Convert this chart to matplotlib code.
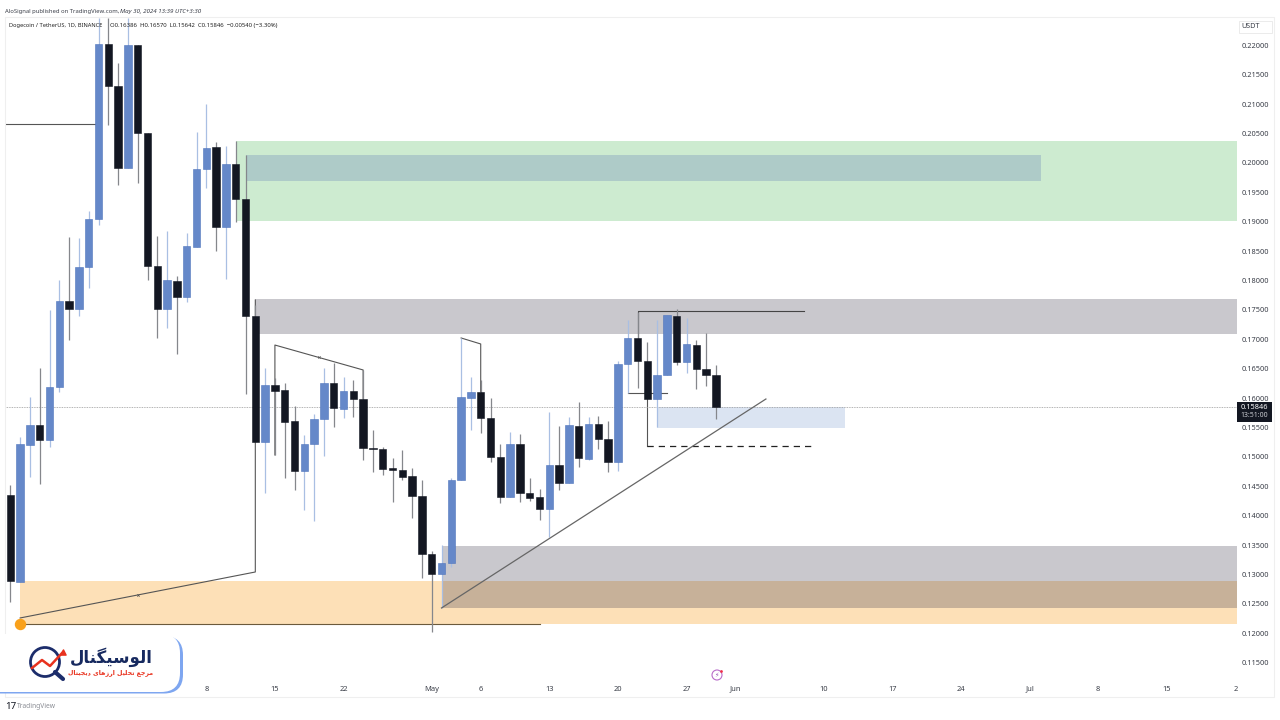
import matplotlib
matplotlib.use('Agg')
import matplotlib.pyplot as plt
from matplotlib.patches import Rectangle, Circle, FancyBboxPatch

plt.rcParams['font.family'] = ['Noto Sans', 'DejaVu Sans']

# daily candles, index 0 is 19 Mar 2024
opens = [.14354, .12874, .15204, .15544, .15289, .16191, .17653, .17517, .18232, .19048,
         .22024, .21309, .19915, .22007, .20510, .18249, .17517, .17993, .17721, .18572,
         .19898, .20272, .18912, .19983, .19388, .17398, .15255, .16225, .16140, .15613,
         .14762, .15221, .15646, .16259, .15817, .16123, .15986, .15153, .15136, .14813,
         .14779, .14677, .14337, .13350, .13010, .13198, .14609, .16003, .16106, .15663,
         .15000, .14320, .15221, .14388, .14320, .14116, .14864, .14558, .15527, .14966,
         .15561, .15306, .14915, .16581, .17024, .16632, .15986, .16394, .17398, .16615,
         .16905, .16496, .16386]
highs = [.14524, .15340, .16020, .16513, .17500, .18010, .18742, .18725, .19184, .22466,
         .22466, .21701, .22466, .22007, .20510, .18759, .18844, .18078, .18810, .20527,
         .21003, .20357, .20289, .20374, .20136, .17585, .16513, .16343, .16259, .15867,
         .15374, .15731, .16513, .16598, .16361, .16310, .16480, .15459, .15170, .14983,
         .15119, .14813, .14609, .13400, .13503, .14643, .17024, .16361, .16310, .16003,
         .15221, .15425, .15391, .14643, .14456, .15765, .15527, .15680, .15935, .15680,
         .15697, .15612, .16632, .17330, .17466, .16956, .17330, .17415, .17517, .17364,
         .16990, .17109, .16570]
lows = [.12534, .12874, .14660, .14541, .15170, .16106, .16990, .17398, .17874, .18945,
        .20646, .19626, .19915, .19660, .18010, .17024, .17194, .16752, .17636, .18572,
        .19575, .18504, .18027, .18997, .16071, .15255, .14388, .15034, .14643, .14439,
        .14099, .13912, .15017, .15510, .15663, .15680, .14949, .14745, .14694, .14234,
        .14609, .13963, .12942, .12024, .12432, .13130, .14609, .15459, .15408, .14915,
        .14218, .14320, .14234, .14251, .13929, .13640, .14439, .14558, .14830, .14949,
        .15136, .14745, .14762, .16088, .16173, .15986, .15510, .16394, .16564, .16428,
        .16156, .16207, .15642]
closes = [.12891, .15221, .15544, .15289, .16191, .17653, .17517, .18232, .19048, .22024,
          .21309, .19915, .22007, .20510, .18249, .17517, .18010, .17721, .18589, .19898,
          .20255, .18912, .19983, .19388, .17398, .15255, .16225, .16123, .15596, .14762,
          .15221, .15646, .16259, .15834, .16123, .15986, .15153, .15136, .14796, .14779,
          .14660, .14337, .13350, .13010, .13198, .14609, .16020, .16106, .15663, .15000,
          .14320, .15221, .14388, .14303, .14116, .14864, .14558, .15544, .14983, .15561,
          .15306, .14915, .16581, .17024, .16632, .15986, .16394, .17415, .16615, .16922,
          .16496, .16394, .15846]

price_ticks = [.115, .12, .125, .13, .135, .14, .145, .15, .155, .16, .165, .17, .175, .18,
               .185, .19, .195, .20, .205, .21, .215, .22]
date_idx = [20, 27, 34, 43, 48, 55, 62, 69, 74, 83, 90, 97, 104, 111, 118, 125]
date_labels = ['8', '15', '22', 'May', '6', '13', '20', '27', 'Jun', '10', '17', '24', 'Jul', '8', '15', '2']

last_price = .15846

W, H = 1280, 720
fig = plt.figure(figsize=(12.8, 7.2), dpi=100, facecolor='white')


def px(x, y):
    return x / W, 1 - y / H


def fig_text(x, y, s, **kw):
    kw.setdefault('va', 'center')
    fig.text(*px(x, y), s, **kw)


ax = fig.add_axes([5 / W, 1 - 680 / H, 1232 / W, 662 / H])
ax.set_xlim(-0.541, 125.17)
ax.set_ylim(.11207, .22466)
for s in ax.spines.values():
    s.set_visible(False)

# zones
ax.axhspan(.19014, .20374, xmin=(23.03 + .541) / 125.711, facecolor='#cdebd0', lw=0, zorder=1)
ax.fill_between([24, 105.2], .19694, .20136, facecolor='#aecbc8', lw=0, zorder=1.1)
ax.fill_between([25, 125.17], .17092, .17687, facecolor='#c9c8cd', lw=0, zorder=1)
ax.fill_between([1, 125.17], .12160, .12891, facecolor='#fde0b7', lw=0, zorder=1)
ax.fill_between([44, 125.17], .12432, .13486, facecolor='#3e3a4c', alpha=.28, lw=0, zorder=1.1)
ax.fill_between([66, 85.2], .15493, .15850, facecolor='#dbe4f2', lw=0, zorder=1)

# drawings
line_kw = dict(color='#555555', lw=.8, zorder=2)
ax.plot([-.54, 9], [.20663, .20663], **line_kw)
ax.plot([1, 54], [.12160, .12160], color='#6b5a3c', lw=.8, zorder=2)
ax.plot([1, 25, 25], [.12262, .13044, .17670], **line_kw)
ax.plot([27, 27, 36, 36], [.15034, .16904, .16480, .15986], **line_kw)
ax.plot([46, 48, 48], [.17024, .16922, .16106], **line_kw)
ax.plot([64, 64, 81], [.17024, .17483, .17483], color='#444444', lw=.8, zorder=2)
ax.plot([63, 67], [.16088, .16088], **line_kw)
ax.plot([65, 65], [.15986, .15194], **line_kw)
ax.plot([65, 82], [.15194, .15194], color='#222222', lw=.9, ls=(0, (5, 4)), zorder=2)
ax.plot([44, 77.1], [.12432, .15986], color='#666666', lw=.9, zorder=5)
ax.scatter([13, 31.5], [.12653, .16692], marker='x', s=3, lw=.5, color='#555555', zorder=3)
ax.scatter([1], [.1216], s=52, color='#f9a11b', zorder=3)
ax.axhline(last_price, color='#9a9a9a', lw=.6, ls=(0, (1, 1)), zorder=2)

# candles
for i in range(len(opens)):
    up = closes[i] >= opens[i]
    wick = '#a9bfe3' if up else '#85878c'
    ax.vlines(i, lows[i], highs[i], color=wick, lw=.9, zorder=3)
    body = '#6588c9' if up else '#131722'
    edge = '#4f74bd' if up else '#131722'
    ax.bar(i, abs(closes[i] - opens[i]), bottom=min(opens[i], closes[i]), width=.77,
           facecolor=body, edgecolor=edge, lw=.4, zorder=4)

ax.set_xticks(date_idx)
ax.set_xticklabels(date_labels)
ax.yaxis.tick_right()
ax.set_yticks(price_ticks)
ax.set_yticklabels(['%.5f' % p for p in price_ticks])
ax.tick_params(axis='y', length=0, pad=3, labelsize=5.3, labelcolor='#3a3e48')
ax.tick_params(axis='x', length=0, pad=4, labelsize=5.4, labelcolor='#3a3e48')
for lab in ax.get_xticklabels():
    if lab.get_text() in ('May', 'Jun', 'Jul'):
        lab.set_weight('bold')
ax.patch.set_alpha(0)

# frame of the published snapshot
fig.add_artist(Rectangle(px(5, 697), 1269 / W, 680 / H, fill=False, ec='#efefef', lw=.8,
                         transform=fig.transFigure))

fig_text(5, 11, 'AloSignal published on TradingView.com,', fontsize=4.25, color='#3a3e48')
fig_text(120, 11, 'May 30, 2024 13:39 UTC+3:30', fontsize=4.45, color='#3a3e48', style='italic')
fig_text(9, 25, 'Dogecoin / TetherUS, 1D, BINANCE', fontsize=4.1, color='#222222')
fig_text(110, 25, 'O0.16386  H0.16570  L0.15642  C0.15846  \u22120.00540 (\u22123.30%)',
         fontsize=4.3, color='#222222')

# price scale label
fig.add_artist(Rectangle(px(1239, 33), 33 / W, 12 / H, fc='white', ec='#e8e8e8', lw=.6,
                         transform=fig.transFigure))
fig_text(1251, 27, 'USDT', fontsize=5.2, color='#3a3e48', ha='center')
fig.add_artist(Rectangle(px(1237, 422), 35 / W, 20 / H, fc='#131722', ec='none',
                         transform=fig.transFigure, zorder=5))
fig_text(1254.5, 407.5, '0.15846', fontsize=5.3, color='white', ha='center', weight='bold', zorder=6)
fig_text(1254.5, 416, '13:51:00', fontsize=5, color='#c8cad0', ha='center', zorder=6)

# footer
fig_text(5, 706.5, '17', fontsize=7, color='#131722', weight='black')
fig_text(17, 706.5, 'TradingView', fontsize=4.8, color='#8a8d94')

# overlay in pixel coordinates for the logo card and news mark
ov = fig.add_axes([0, 0, 1, 1], zorder=10)
ov.set_xlim(0, W)
ov.set_ylim(H, 0)
ov.axis('off')

ov.add_patch(Circle((717, 675), 5, fc='white', ec='#b86bc9', lw=.8))
ov.text(717, 675, '\u26a1', fontsize=4.5, color='#9c4fb4', ha='center', va='center', family='DejaVu Sans')
ov.scatter([721], [671], s=4, color='#f0304a', lw=0)

# card: blue crescent under a white rounded box
ov.add_patch(FancyBboxPatch((-30, 636), 213, 57.5, boxstyle='round,pad=0,rounding_size=19',
                            fc='#7ea6f0', ec='none'))
ov.add_patch(FancyBboxPatch((-30, 634), 210, 58, boxstyle='round,pad=0,rounding_size=19',
                            fc='white', ec='none'))
ov.add_patch(Circle((45, 662), 14.5, fc='none', ec='#1c2d6b', lw=2))
ov.plot([55, 63], [672, 679], color='#1c2d6b', lw=3, solid_capstyle='round')
ov.plot([32, 42, 50, 63], [668, 660, 666, 652], color='#e8321e', lw=1.8)
ov.scatter([63], [652], marker='^', s=14, color='#e8321e')

# Arabic text in visual order with presentation forms
brand = '\ufedd\ufe8e\ufee8\ufb95\ufbff\ufeb3\ufeee\ufedf\ufe8d'
tagline = ('\ufedd\ufe8e\ufe98\ufbff\ufea0\ufbfe\ufea9 '
           '\ufbfc\ufe8e\ufeeb\ufeaf\ufead\ufe8d '
           '\ufede\ufbff\ufee0\ufea4\ufe97 '
           '\ufeca\ufe9f\ufeae\ufee3')
ov.text(153, 657, brand, fontsize=12, weight='bold', color='#16295f', ha='right', va='center',
        family='DejaVu Sans')
ov.text(153, 673, tagline, fontsize=4.5, weight='bold', color='#e8321e', ha='right', va='center',
        family='DejaVu Sans')

fig.savefig('out.png', dpi=100)
